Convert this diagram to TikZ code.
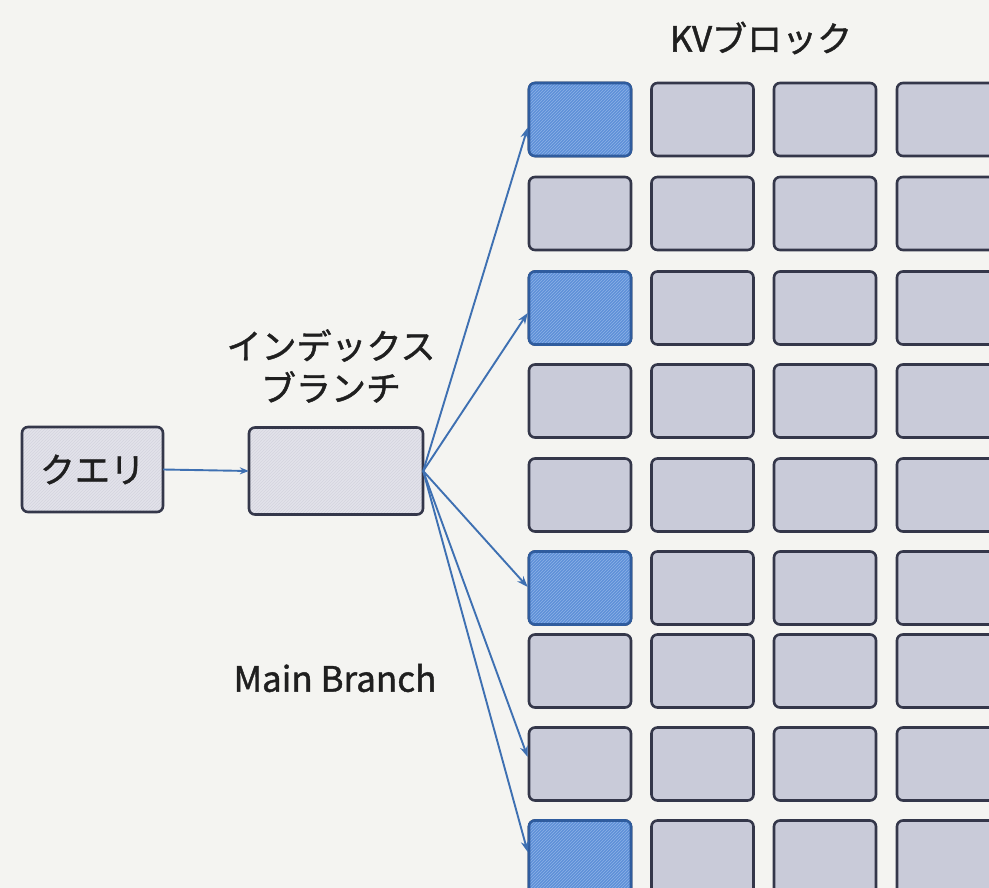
\documentclass[tikz,border=0pt]{standalone}
\usepackage{fontspec}
\setmainfont[FakeBold=1.2]{Noto Sans CJK JP}
\usetikzlibrary{arrows.meta,patterns}
\definecolor{bgc}{HTML}{F4F4F1}
\definecolor{boxfill}{HTML}{C9CBD9}
\definecolor{boxline}{HTML}{34374A}
\definecolor{hifill}{HTML}{5E90D8}
\definecolor{hiline}{HTML}{2F5C9E}
\definecolor{hihatch}{HTML}{8DB2E6}
\definecolor{lightfill}{HTML}{E3E3EA}
\definecolor{lighthatch}{HTML}{D4D4DE}
\definecolor{arrc}{HTML}{3E70B2}
\tikzset{
  kvbox/.style={draw=boxline, fill=boxfill, line width=2.6pt, rounded corners=6pt,
    minimum width=102pt, minimum height=73pt, inner sep=0pt},
  hibox/.style={fill=hifill, rounded corners=6pt,
    minimum width=102pt, minimum height=73pt, inner sep=0pt,
    postaction={pattern=north east lines, pattern color=hihatch},
    postaction={draw=hiline, line width=2.6pt}},
  lightbox/.style={fill=lightfill, rounded corners=6pt, inner sep=0pt,
    postaction={pattern=north east lines, pattern color=lighthatch},
    postaction={draw=boxline, line width=2.6pt}},
  lbl/.style={font=\fontsize{35}{42}\selectfont, text=black!88, inner sep=0pt, align=center},
  conn/.style={draw=arrc, line width=1.9pt, -{Stealth[length=11pt,width=8pt]}}
}
\begin{document}
\begin{tikzpicture}[x=1pt,y=-1pt]
\useasboundingbox (0,0) rectangle (989,888);
\fill[bgc] (0,0) rectangle (989,888);
\clip (0,0) rectangle (989,888);
% grid
\foreach \r/\yc in {1/119.5,2/213.5,3/308,4/401,5/495,6/588,7/671,8/764,9/857}{
  \foreach \c/\xc in {1/580,2/702.5,3/825,4/948}{
    \node[kvbox] (b-\r-\c) at (\xc,\yc) {};
  }
}
\foreach \r in {1,3,6,9}{
  \node[hibox] at (b-\r-1) {};
}
% left nodes
\node[lightbox, minimum width=141pt, minimum height=85pt] (q) at (92.5,469.5) {};
\node[lbl] at (q) {クエリ};
\node[lightbox, minimum width=174pt, minimum height=87pt] (idx) at (336,471) {};
% labels
\node[lbl] (kvl) at (761,38) {KVブロック};
\node[lbl] (idxl) at (331,366) {インデックス\\ブランチ};
\node[lbl] (mainl) at (335,678) {Main Branch};
% connectors
\draw[draw=arrc, line width=1.9pt, -{Stealth[length=9pt,width=7pt]}] (q.east) -- (idx.west);
\draw[conn] (idx.east) -- ([yshift=-8pt]b-1-1.west);
\draw[conn] (idx.east) -- ([yshift=-5pt]b-3-1.west);
\draw[conn] (idx.east) -- ([yshift=1pt]b-6-1.west);
\draw[conn] (idx.east) -- ([yshift=7pt]b-8-1.west);
\draw[conn] (idx.east) -- ([yshift=5pt]b-9-1.west);
\end{tikzpicture}
\end{document}
